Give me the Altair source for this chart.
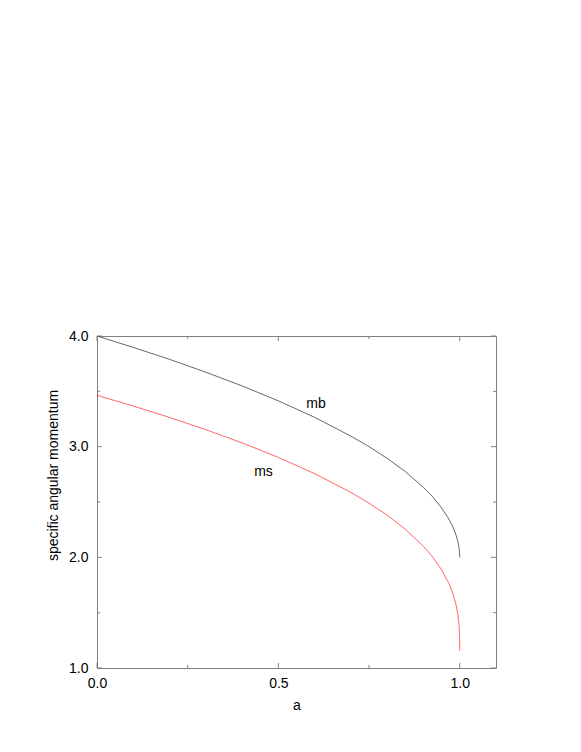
import altair as alt
import pandas as pd

# spin parameter a
a_mb = [0.0, 0.1, 0.2, 0.3, 0.4, 0.5, 0.6, 0.7, 0.75, 0.8, 0.85, 0.9, 0.925, 0.95, 0.97, 0.98, 0.99, 0.995, 0.998, 0.999, 0.9995, 0.9999, 1.0]
l_mb = [4.0, 3.897, 3.789, 3.673, 3.549, 3.414, 3.265, 3.095, 3.0, 2.894, 2.775, 2.632, 2.548, 2.447, 2.346, 2.283, 2.2, 2.141, 2.089, 2.063, 2.045, 2.02, 2.0]

a_ms = [0.0, 0.1, 0.2, 0.3, 0.4, 0.5, 0.6, 0.7, 0.75, 0.8, 0.85, 0.9, 0.925, 0.95, 0.97, 0.98, 0.99, 0.995, 0.998, 0.9995, 0.9999, 1.0]
l_ms = [3.464, 3.367, 3.264, 3.154, 3.034, 2.903, 2.756, 2.587, 2.489, 2.381, 2.254, 2.100, 2.005, 1.888, 1.765, 1.683, 1.569, 1.480, 1.392, 1.293, 1.236, 1.155]

label_text = ["mb", "ms"]
label_a = [0.604, 0.459]
label_l = [3.347, 2.738]

x_major = [0.0, 0.5, 1.0]
x_minor = [0.25, 0.75]
y_major = [1.0, 2.0, 3.0, 4.0]
y_minor = [1.5, 2.5, 3.5]

W, H = 399, 332
FONT = "Liberation Sans"

df = pd.concat([
    pd.DataFrame({"a": a_mb, "l": l_mb, "curve": "mb"}),
    pd.DataFrame({"a": a_ms, "l": l_ms, "curve": "ms"}),
])
labels = pd.DataFrame({"a": label_a, "l": label_l, "t": label_text})

xs = alt.Scale(domain=[0, 1.1], nice=False, zero=False)
ys = alt.Scale(domain=[1.0, 4.0], nice=False, zero=False)

lines = alt.Chart(df).mark_line(strokeWidth=0.6).encode(
    x=alt.X("a:Q", scale=xs, title="a",
            axis=alt.Axis(values=x_major, format=".1f", grid=False, ticks=False, domain=False,
                          labelFlush=False, labelOverlap=False,
                          labelFont=FONT, labelFontSize=14, labelColor="black", labelPadding=8,
                          titleFont=FONT, titleFontSize=14, titleFontWeight="normal", titleColor="black",
                          titlePadding=8)),
    y=alt.Y("l:Q", scale=ys, title="specific angular momentum",
            axis=alt.Axis(values=y_major, format=".1f", grid=False, ticks=False, domain=False,
                          labelFlush=False, labelOverlap=False,
                          labelFont=FONT, labelFontSize=14, labelColor="black", labelPadding=9,
                          titleFont=FONT, titleFontSize=14, titleFontWeight="normal", titleColor="black",
                          titleX=-40, titleY=139, titleBaseline="alphabetic")),
    color=alt.Color("curve:N", scale=alt.Scale(domain=["mb", "ms"], range=["black", "red"]), legend=None),
    order=alt.Order("a:Q"),
)

text = alt.Chart(labels).mark_text(font=FONT, fontSize=14, color="black", align="center", baseline="alphabetic").encode(
    x=alt.X("a:Q", scale=xs), y=alt.Y("l:Q", scale=ys), text="t:N"
)

def xticks(vals, ln):
    d = pd.DataFrame({"v": vals})
    bottom = alt.Chart(d).mark_rule(color="#808080", strokeWidth=1).encode(
        x=alt.X("v:Q", scale=xs), y=alt.value(H), y2=alt.value(H - ln))
    top = alt.Chart(d).mark_rule(color="#808080", strokeWidth=1).encode(
        x=alt.X("v:Q", scale=xs), y=alt.value(0), y2=alt.value(ln))
    return [bottom, top]

def yticks(vals, ln):
    d = pd.DataFrame({"v": vals})
    left = alt.Chart(d).mark_rule(color="#808080", strokeWidth=1).encode(
        y=alt.Y("v:Q", scale=ys), x=alt.value(0), x2=alt.value(ln))
    right = alt.Chart(d).mark_rule(color="#808080", strokeWidth=1).encode(
        y=alt.Y("v:Q", scale=ys), x=alt.value(W), x2=alt.value(W - ln))
    return [left, right]

layers = [lines, text] + xticks(x_major, 5) + xticks(x_minor, 3) + yticks(y_major, 5) + yticks(y_minor, 3)

chart = alt.layer(*layers).properties(
    width=W, height=H,
    autosize=alt.AutoSizeParams(type="none"),
    padding={"left": 89, "top": 328, "right": 77, "bottom": 76},
    background="white",
).configure_view(stroke="#808080", strokeWidth=1)

chart.save("out.html", embed_options={"renderer": "svg", "actions": False})
